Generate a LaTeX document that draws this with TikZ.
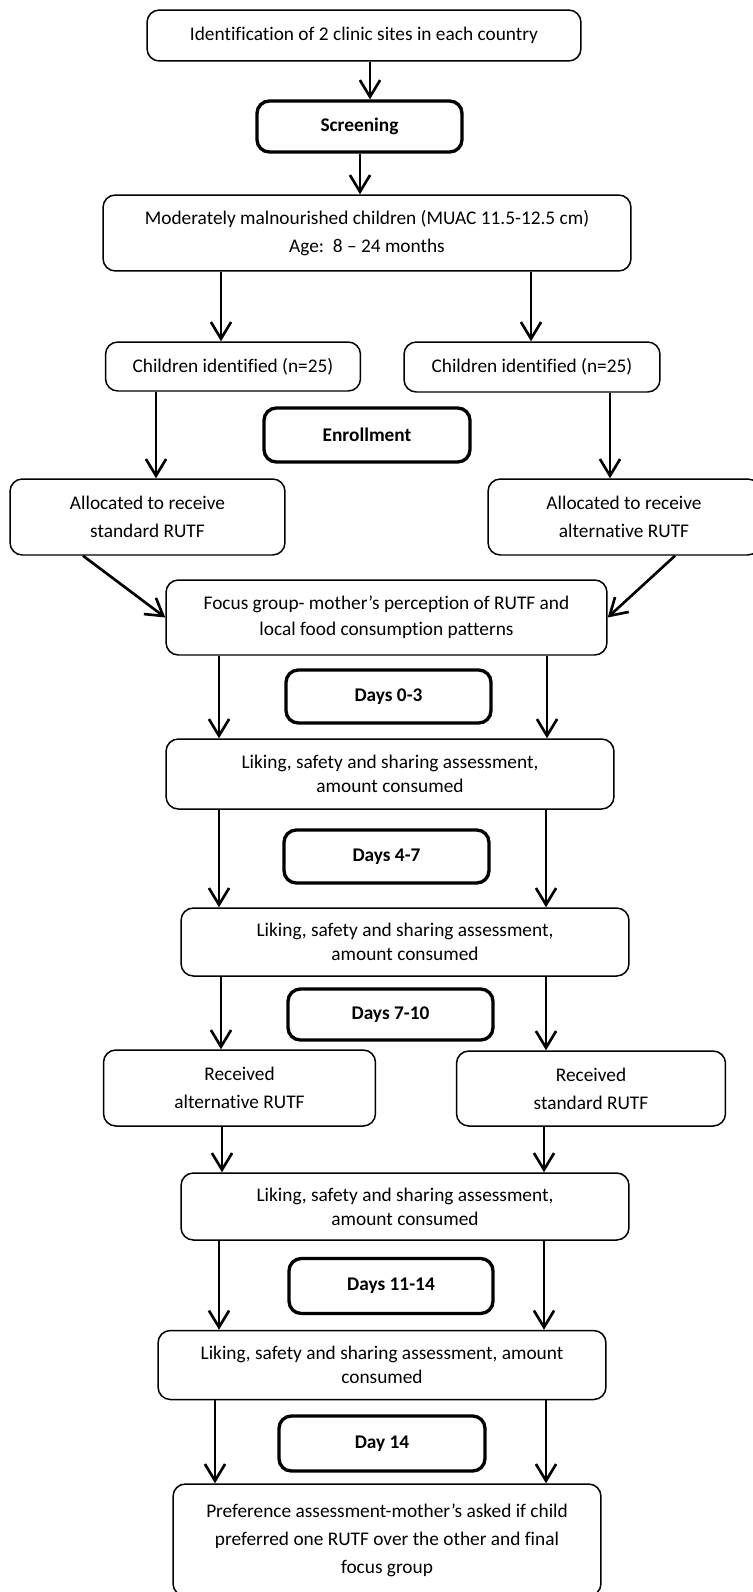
\documentclass[tikz,border=0pt]{standalone}
\usepackage{fontspec}
\setmainfont{Carlito}[Ligatures=NoCommon]
\usetikzlibrary{arrows.meta}
\begin{document}
\begin{tikzpicture}[x=0.02cm, y=-0.02cm,
  >={Straight Barb[length=9.5pt,width=11.5pt,line width=1.5pt]},
  box/.style={draw, rounded corners=7pt, line width=0.85pt, align=center, inner sep=0pt,
    font=\fontsize{11}{16}\selectfont},
  tight/.style={box, font=\fontsize{11}{13.5}\selectfont},
  phase/.style={box, line width=1.9pt, font=\fontsize{11}{16}\selectfont\bfseries},
  link/.style={->, line width=1.5pt}]
  \useasboundingbox (0,0) rectangle (753,1592);

  \node[box, minimum width=8.68cm, minimum height=1.02cm] (sites) at (364,35.5)
    {Identification of 2 clinic sites in each country};
  \node[phase, minimum width=4.1cm, minimum height=1.02cm] (screen) at (359.5,126.5) {Screening};
  \node[box, minimum width=10.56cm, minimum height=1.52cm] (mam) at (367,233)
    {Moderately malnourished children (MUAC 11.5-12.5 cm)\\Age:\ \ 8 -- 24 months};
  \node[box, minimum width=5.1cm, minimum height=0.98cm] (kidsL) at (233,366.5)
    {Children identified (n=25)};
  \node[box, minimum width=5.12cm, minimum height=1.0cm] (kidsR) at (532,367)
    {Children identified (n=25)};
  \node[phase, minimum width=4.12cm, minimum height=1.08cm] (enroll) at (367,435) {Enrollment};
  \node[box, minimum width=5.5cm, minimum height=1.52cm] (allocL) at (147.5,517)
    {Allocated to receive\\standard RUTF};
  \node[box, minimum width=5.44cm, minimum height=1.52cm] (allocR) at (624,517)
    {Allocated to receive\\alternative RUTF};
  \node[box, font=\fontsize{11}{15}\selectfont, minimum width=8.82cm, minimum height=1.5cm] (focus) at (386.5,617.5)
    {Focus group- mother’s perception of RUTF and\\local food consumption patterns};
  \node[phase, minimum width=4.1cm, minimum height=1.06cm] (daysA) at (388.5,696.5) {Days 0-3};
  \node[tight, minimum width=8.96cm, minimum height=1.4cm] (likeA) at (390,774)
    {Liking, safety and sharing assessment,\\amount consumed};
  \node[phase, minimum width=4.1cm, minimum height=1.06cm] (daysB) at (386.5,856.5) {Days 4-7};
  \node[tight, minimum width=8.96cm, minimum height=1.36cm] (likeB) at (405,942)
    {Liking, safety and sharing assessment,\\amount consumed};
  \node[phase, minimum width=4.1cm, minimum height=1.02cm] (daysC) at (390.5,1014.5) {Days 7-10};
  \node[box, minimum width=5.44cm, minimum height=1.52cm] (recL) at (239.5,1088)
    {Received\\alternative RUTF};
  \node[box, minimum width=5.38cm, minimum height=1.5cm] (recR) at (591,1088.5)
    {Received\\standard RUTF};
  \node[tight, minimum width=8.96cm, minimum height=1.34cm] (likeC) at (405,1206.5)
    {Liking, safety and sharing assessment,\\amount consumed};
  \node[phase, minimum width=4.08cm, minimum height=1.1cm] (daysD) at (391,1286) {Days 11-14};
  \node[tight, minimum width=8.96cm, minimum height=1.38cm] (likeD) at (382,1365)
    {Liking, safety and sharing assessment, amount\\consumed};
  \node[phase, minimum width=4.12cm, minimum height=1.1cm] (dayE) at (382,1443.5) {Day 14};
  \node[box, minimum width=8.56cm, minimum height=2.24cm] (pref) at (387,1540)
    {Preference assessment-mother’s asked if child\\preferred one RUTF over the other and final\\focus group};

  % connectors
  \draw[link] (sites.south -| 370,0) -- (screen.north -| 370,0);
  \draw[link] (screen.south -| 360,0) -- (mam.north -| 360,0);
  \draw[link] (mam.south -| 221,0) -- (kidsL.north -| 221,0);
  \draw[link] (mam.south -| 531,0) -- (kidsR.north -| 531,0);
  \draw[link] (kidsL.south -| 156,0) -- (allocL.north -| 156,0);
  \draw[link] (kidsR.south -| 610,0) -- (allocR.north -| 610,0);
  \draw[link] (allocL.south -| 83,0) -- (focus.west);
  \draw[link] (allocR.south -| 675,0) -- (focus.east);
  \draw[link] (focus.south -| 219,0) -- (likeA.north -| 219,0);
  \draw[link] (focus.south -| 547,0) -- (likeA.north -| 547,0);
  \draw[link] (likeA.south -| 219,0) -- (likeB.north -| 219,0);
  \draw[link] (likeA.south -| 546,0) -- (likeB.north -| 546,0);
  \draw[link] (likeB.south -| 221,0) -- (recL.north -| 221,0);
  \draw[link] (likeB.south -| 546,0) -- (recR.north -| 546,0);
  \draw[link] (recL.south -| 222,0) -- (likeC.north -| 222,0);
  \draw[link] (recR.south -| 544,0) -- (likeC.north -| 544,0);
  \draw[link] (likeC.south -| 219,0) -- (likeD.north -| 219,0);
  \draw[link] (likeC.south -| 544,0) -- (likeD.north -| 544,0);
  \draw[link] (likeD.south -| 215,0) -- (pref.north -| 215,0);
  \draw[link] (likeD.south -| 546,0) -- (pref.north -| 546,0);
\end{tikzpicture}
\end{document}
